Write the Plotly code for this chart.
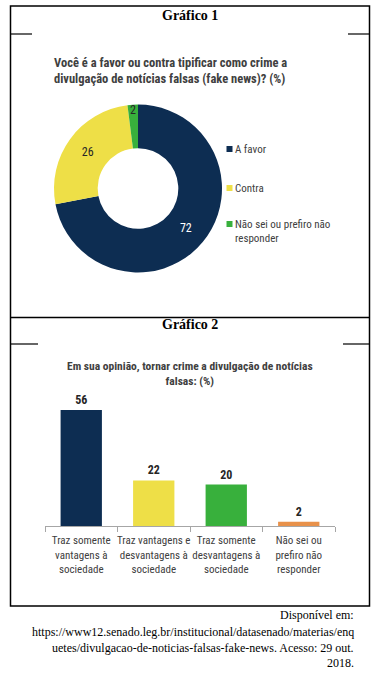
import plotly.graph_objects as go

W, H = 379, 675

# ---- data ----
pie_labels = ["A favor", "Contra", "Não sei ou prefiro não responder"]
pie_legend_text = ["A favor", "Contra", "Não sei ou prefiro não<br>responder"]
pie_values = [72, 26, 2]
pie_colors = ["#0D2D52", "#EEDF47", "#38B03C"]

bar_categories = ["Traz somente<br>vantagens à<br>sociedade",
                  "Traz vantagens e<br>desvantagens à<br>sociedade",
                  "Traz somente<br>desvantagens à<br>sociedade",
                  "Não sei ou<br>prefiro não<br>responder"]
bar_values = [56, 22, 20, 2]
bar_colors = ["#0D2D52", "#EEDF47", "#38B03C", "#E8914A"]

title1 = "Você é a favor ou contra tipificar como crime a<br>divulgação de notícias falsas (fake news)? (%)"
title2 = "Em sua opinião, tornar crime a divulgação de notícias<br>falsas: (%)"
source_lines = ["Disponível em:",
                "https://www12.senado.leg.br/institucional/datasenado/materias/enq",
                "uetes/divulgacao-de-noticias-falsas-fake-news. Acesso: 29 out.",
                "2018."]

FONT = "Liberation Sans Narrow, Roboto Condensed, Arial Narrow, Roboto, sans-serif"
SERIF = "Liberation Serif, Times New Roman, serif"
GREY = "#404040"


def fx(x):
    return x / W


def fy(y):
    return 1 - y / H


fig = go.Figure()

# donut
cx, cy, r = 138, 188.5, 84
fig.add_trace(go.Pie(
    labels=pie_labels, values=pie_values, sort=False, direction="clockwise",
    rotation=0, hole=0.48,
    marker=dict(colors=pie_colors, line=dict(width=0)),
    textinfo="value", textposition="inside", insidetextorientation="horizontal",
    textfont=dict(family=FONT, size=12, color=["#FFFFFF", "#262626", "#262626"]),
    domain=dict(x=[fx(cx - r), fx(cx + r)], y=[fy(cy + r), fy(cy - r)]),
    showlegend=False, hoverinfo="label+value",
))

# bars
fig.add_trace(go.Bar(
    x=bar_categories, y=bar_values, marker=dict(color=bar_colors, line=dict(width=0)),
    text=bar_values, textposition="outside", cliponaxis=False,
    textfont=dict(family=FONT, size=11.5, color="#262626", weight="bold"),
    showlegend=False, xaxis="x", yaxis="y",
))

fig.update_layout(
    width=W, height=H, margin=dict(l=0, r=0, t=0, b=0),
    paper_bgcolor="white", plot_bgcolor="white",
    uniformtext=dict(minsize=12, mode="show"),
    bargap=0.43,
    xaxis=dict(domain=[fx(45), fx(335)], showline=True, linecolor="#A6A6A6", linewidth=1,
               ticks="outside", tickson="boundaries", ticklen=5, tickcolor="#A6A6A6",
               tickangle=0, automargin=False, ticklabelstandoff=4,
               tickfont=dict(family=FONT, size=11, color=GREY), showgrid=False, fixedrange=True),
    yaxis=dict(domain=[fy(526), fy(526 - 60 * 2.07)], range=[0, 60], visible=False,
               showgrid=False, fixedrange=True),
    showlegend=False,
)

shapes = []
# frame
shapes.append(dict(type="rect", xref="paper", yref="paper", x0=fx(10.5), x1=fx(369.5),
                   y0=fy(606), y1=fy(6), line=dict(color="black", width=1.5)))
shapes.append(dict(type="line", xref="paper", yref="paper", x0=fx(10.5), x1=fx(369.5),
                   y0=fy(317.5), y1=fy(317.5), line=dict(color="black", width=1.5)))
for (a, b, yy) in [(10.5, 32, 34), (348, 369.5, 34), (10.5, 38, 344), (343, 369.5, 344)]:
    shapes.append(dict(type="line", xref="paper", yref="paper", x0=fx(a), x1=fx(b),
                       y0=fy(yy), y1=fy(yy), line=dict(color="black", width=1.2)))

annotations = []
annotations.append(dict(text="<b>Gráfico 1</b>", x=fx(190), y=fy(16), xref="paper", yref="paper",
                        showarrow=False, font=dict(family=SERIF, size=14, color="black"),
                        xanchor="center", yanchor="middle"))
annotations.append(dict(text="<b>Gráfico 2</b>", x=fx(190), y=fy(325), xref="paper", yref="paper",
                        showarrow=False, font=dict(family=SERIF, size=14, color="black"),
                        xanchor="center", yanchor="middle"))
annotations.append(dict(text="<b>" + title1 + "</b>", x=fx(52), y=fy(53), xref="paper", yref="paper",
                        showarrow=False, align="left", xanchor="left", yanchor="top",
                        font=dict(family=FONT, size=12.5, color=GREY)))
annotations.append(dict(text="<b>" + title2 + "</b>", x=fx(190), y=fy(357), xref="paper", yref="paper",
                        showarrow=False, align="center", xanchor="center", yanchor="top",
                        font=dict(family=FONT, size=11.5, color=GREY)))

# legend for the donut
leg_y = [149, 188, 224]
for i, (lab, col) in enumerate(zip(pie_legend_text, pie_colors)):
    y = leg_y[i]
    shapes.append(dict(type="rect", xref="paper", yref="paper", x0=fx(226.5), x1=fx(232.5),
                       y0=fy(y + 3), y1=fy(y - 3), fillcolor=col, line=dict(width=0)))
    annotations.append(dict(text=lab, x=fx(233), y=fy(y - 8), xref="paper", yref="paper",
                            showarrow=False, align="left", xanchor="left", yanchor="top",
                            font=dict(family=FONT, size=11, color=GREY)))

# source
src_y = [615, 632, 648, 663]
for t, yy in zip(source_lines, src_y):
    annotations.append(dict(text=t, x=fx(356), y=fy(yy), xref="paper", yref="paper",
                            showarrow=False, xanchor="right", yanchor="middle",
                            font=dict(family=SERIF, size=12, color="black")))

fig.update_layout(shapes=shapes, annotations=annotations)
fig.write_html("out.html", config={"displayModeBar": False, "staticPlot": False})

# remove the browser's default page margin so the figure fills the window exactly
with open("out.html", "r", encoding="utf-8") as f:
    html = f.read()
html = html.replace("<head>", "<head><style>html,body{margin:0;padding:0;overflow:hidden;}</style>", 1)
with open("out.html", "w", encoding="utf-8") as f:
    f.write(html)
